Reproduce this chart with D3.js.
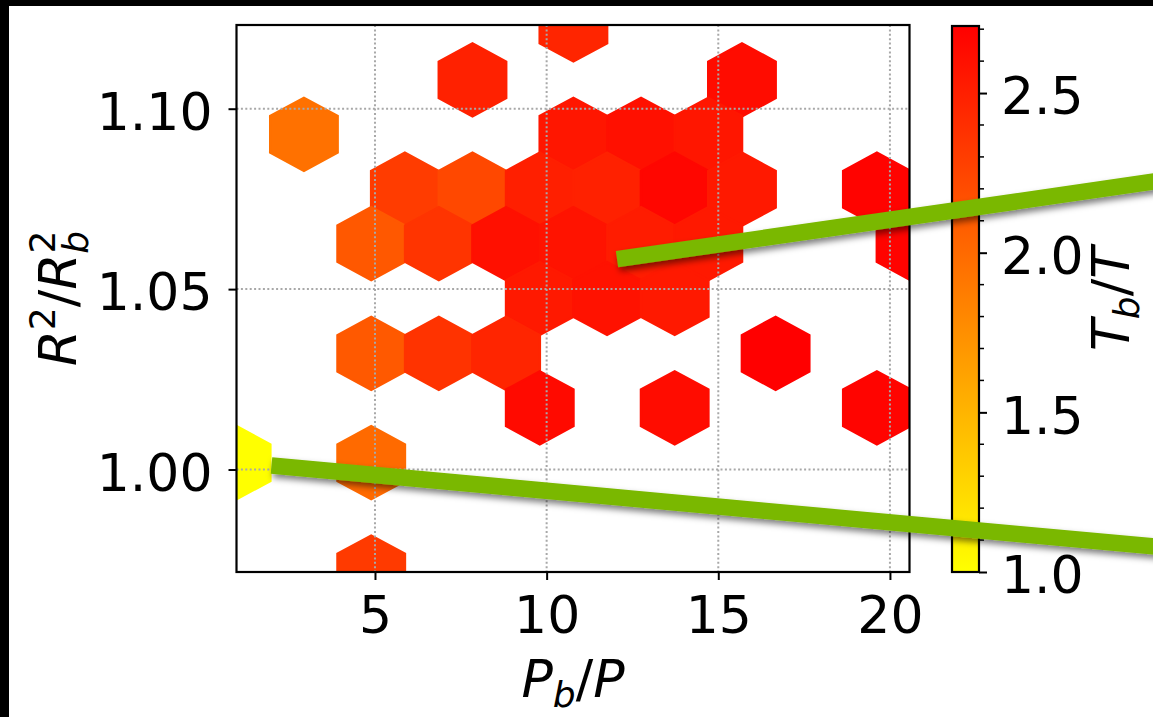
<html>
  <head>
    <script src="https://d3js.org/d3.v7.min.js"></script>
    <style>
      body { margin: 0; background: #fff; }
      text { font-family: "DejaVu Sans", sans-serif; fill: #000; }
    </style>
  </head>
  <body>
    <svg id="chart" width="1153" height="717"></svg>
    <script>
      // hexbin cells: centre (P_b/P, R^2/R_b^2) and colour value T_b/T
      var hexX = [10.78, 7.84, 15.69, 2.93, 10.78, 12.75, 14.71,
                  5.87, 7.84, 9.80, 11.76, 13.73, 15.69, 19.62,
                  4.89, 6.86, 8.82, 10.78, 12.75, 14.71, 20.60,
                  9.80, 11.76, 13.73,
                  4.89, 6.86, 8.82, 16.67,
                  9.80, 13.73, 19.62,
                  0.97, 4.89, 4.89];
      var hexY = [1.1232, 1.1080, 1.1080, 1.0929, 1.0929, 1.0929, 1.0929,
                  1.0777, 1.0777, 1.0777, 1.0777, 1.0777, 1.0777, 1.0777,
                  1.0626, 1.0626, 1.0626, 1.0626, 1.0626, 1.0626, 1.0626,
                  1.0474, 1.0474, 1.0474,
                  1.0322, 1.0322, 1.0322, 1.0322,
                  1.0171, 1.0171, 1.0171,
                  1.0019, 1.0019, 0.9716];
      var hexV = [2.46, 2.49, 2.63, 1.95, 2.56, 2.60, 2.56,
                  2.31, 2.23, 2.50, 2.49, 2.67, 2.54, 2.69,
                  2.12, 2.36, 2.60, 2.58, 2.52, 2.54, 2.69,
                  2.54, 2.59, 2.54,
                  2.11, 2.37, 2.46, 2.71,
                  2.64, 2.63, 2.68,
                  1.00, 2.00, 2.32];

      var xDomain = [0.966, 20.57];
      var yDomain = [0.9716, 1.1232];
      var cbDomain = [1.0, 2.71];
      var xTicks = [5, 10, 15, 20];
      var yTicks = [1.0, 1.05, 1.1];
      var cbTicks = [1.0, 1.5, 2.0, 2.5];
      var cbMinor = [1.1, 1.2, 1.3, 1.4, 1.6, 1.7, 1.8, 1.9, 2.1, 2.2, 2.3, 2.4, 2.6, 2.7];

      // hexagon size in data units (half width, full row step)
      var hexHalfW = 0.9817;
      var hexSy = 0.0303;

      // the two green annotation strokes, in data units
      var lineX1 = [12.05, 1.985];
      var lineY1 = [1.0583, 1.0011];
      var lineX2 = [27.9, 27.9];
      var lineY2 = [1.0801, 0.9785];

      var svg = d3.select("#chart");
      var pLeft = 236.5, pRight = 909.5, pTop = 25, pBottom = 572;
      var fs = 52;

      svg.append("rect").attr("width", 1153).attr("height", 717).attr("fill", "#fff");

      var x = d3.scaleLinear().domain(xDomain).range([pLeft, pRight]);
      var y = d3.scaleLinear().domain(yDomain).range([pBottom, pTop]);
      var color = d3.scaleLinear().domain(cbDomain).range(["#ffff00", "#ff0000"]);

      var defs = svg.append("defs");
      defs.append("clipPath").attr("id", "plotClip")
        .append("rect")
        .attr("x", pLeft).attr("y", pTop)
        .attr("width", pRight - pLeft).attr("height", pBottom - pTop);

      // hexagons
      var hexData = hexX.map(function (d, i) {
        return { x: d, y: hexY[i], v: hexV[i] };
      });
      function hexPath(d) {
        var pts = [
          [d.x + hexHalfW, d.y - hexSy / 6],
          [d.x + hexHalfW, d.y + hexSy / 6],
          [d.x, d.y + hexSy / 3],
          [d.x - hexHalfW, d.y + hexSy / 6],
          [d.x - hexHalfW, d.y - hexSy / 6],
          [d.x, d.y - hexSy / 3]
        ];
        return "M" + pts.map(function (p) {
          return x(p[0]) + "," + y(p[1]);
        }).join("L") + "Z";
      }
      svg.append("g")
        .attr("clip-path", "url(#plotClip)")
        .selectAll("path")
        .data(hexData)
        .enter()
        .append("path")
        .attr("d", hexPath)
        .attr("fill", function (d) { return color(d.v); })
        .attr("stroke", function (d) { return color(d.v); })
        .attr("stroke-width", 2.5)
        .attr("stroke-linejoin", "miter");

      // dotted grid on top of the cells
      var grid = svg.append("g")
        .attr("stroke", "#a8a8a8")
        .attr("stroke-width", 2)
        .attr("stroke-dasharray", "2,2.4");
      grid.selectAll(".gx").data(xTicks).enter().append("line")
        .attr("x1", function (d) { return x(d); })
        .attr("x2", function (d) { return x(d); })
        .attr("y1", pTop).attr("y2", pBottom);
      grid.selectAll(".gy").data(yTicks).enter().append("line")
        .attr("y1", function (d) { return y(d); })
        .attr("y2", function (d) { return y(d); })
        .attr("x1", pLeft).attr("x2", pRight);

      // axes
      var xAxis = svg.append("g")
        .attr("transform", "translate(0," + pBottom + ")")
        .call(d3.axisBottom(x).tickValues(xTicks).tickSize(8).tickPadding(16).tickFormat(d3.format("d")));
      var yAxis = svg.append("g")
        .attr("transform", "translate(" + pLeft + ",0)")
        .call(d3.axisLeft(y).tickValues(yTicks).tickSize(8).tickPadding(16).tickFormat(d3.format(".2f")));
      [xAxis, yAxis].forEach(function (a) {
        a.select(".domain").remove();
        a.selectAll(".tick line").attr("stroke", "#000").attr("stroke-width", 2);
        a.selectAll(".tick text")
          .style("font-size", fs + "px")
          .attr("font-family", "DejaVu Sans")
          .attr("fill", "#000");
      });
      xAxis.selectAll(".tick text").attr("dy", "0.72em");
      yAxis.selectAll(".tick text").attr("dy", "0.4em");

      svg.append("rect")
        .attr("x", pLeft).attr("y", pTop)
        .attr("width", pRight - pLeft).attr("height", pBottom - pTop)
        .attr("fill", "none").attr("stroke", "#000").attr("stroke-width", 2.2);

      // axis labels (mathtext-like)
      var xl = svg.append("text")
        .attr("x", (pLeft + pRight) / 2).attr("y", 697)
        .attr("text-anchor", "middle")
        .style("font-size", fs + "px");
      xl.append("tspan").style("font-style", "italic").text("P");
      xl.append("tspan").style("font-style", "italic").style("font-size", "36px").attr("dy", 10).text("b");
      xl.append("tspan").attr("dy", -10).text("/");
      xl.append("tspan").style("font-style", "italic").text("P");

      var yl = svg.append("text")
        .attr("transform", "translate(76," + (pTop + pBottom) / 2 + ") rotate(-90)")
        .attr("text-anchor", "middle")
        .style("font-size", fs + "px");
      yl.append("tspan").style("font-style", "italic").text("R");
      yl.append("tspan").style("font-size", "36px").attr("dy", -21).text("2");
      yl.append("tspan").attr("dy", 21).text("/");
      yl.append("tspan").style("font-style", "italic").text("R");
      yl.append("tspan").style("font-size", "36px").attr("dy", -21).text("2");
      yl.append("tspan").style("font-style", "italic").style("font-size", "36px")
        .attr("dx", -23).attr("dy", 33).text("b");

      // colorbar
      var cbLeft = 952, cbRight = 979, cbTop = 26, cbBottom = 572;
      var cy = d3.scaleLinear().domain(cbDomain).range([cbBottom, cbTop]);
      var grad = defs.append("linearGradient").attr("id", "cbGrad")
        .attr("x1", 0).attr("y1", 1).attr("x2", 0).attr("y2", 0);
      grad.append("stop").attr("offset", "0%").attr("stop-color", color(cbDomain[0]));
      grad.append("stop").attr("offset", "100%").attr("stop-color", color(cbDomain[1]));
      svg.append("rect")
        .attr("x", cbLeft).attr("y", cbTop)
        .attr("width", cbRight - cbLeft).attr("height", cbBottom - cbTop)
        .attr("fill", "url(#cbGrad)")
        .attr("stroke", "#000").attr("stroke-width", 2.2);

      var cbAxis = svg.append("g")
        .attr("transform", "translate(" + cbRight + ",0)")
        .call(d3.axisRight(cy).tickValues(cbTicks).tickSize(8).tickPadding(14).tickFormat(d3.format(".1f")));
      cbAxis.select(".domain").remove();
      cbAxis.selectAll(".tick line").attr("stroke", "#000").attr("stroke-width", 2);
      cbAxis.selectAll(".tick text")
        .style("font-size", fs + "px")
        .attr("font-family", "DejaVu Sans")
        .attr("fill", "#000")
        .attr("dy", "0.4em");
      svg.append("g").selectAll("line").data(cbMinor).enter().append("line")
        .attr("x1", cbRight).attr("x2", cbRight + 5)
        .attr("y1", function (d) { return cy(d); })
        .attr("y2", function (d) { return cy(d); })
        .attr("stroke", "#000").attr("stroke-width", 1.5);

      var cl = svg.append("text")
        .attr("transform", "translate(1129," + (cbTop + cbBottom) / 2 + ") rotate(-90)")
        .attr("text-anchor", "middle")
        .style("font-size", fs + "px");
      cl.append("tspan").style("font-style", "italic").text("T");
      cl.append("tspan").style("font-style", "italic").style("font-size", "36px").attr("dy", 10).text("b");
      cl.append("tspan").attr("dy", -10).text("/");
      cl.append("tspan").style("font-style", "italic").text("T");

      // green annotation strokes with a soft shadow
      var shadow = defs.append("filter").attr("id", "shadow")
        .attr("x", "-10%").attr("y", "-200%").attr("width", "120%").attr("height", "500%");
      shadow.append("feDropShadow")
        .attr("dx", 2).attr("dy", 4).attr("stdDeviation", 3)
        .attr("flood-color", "#000").attr("flood-opacity", 0.5);
      svg.append("g").attr("filter", "url(#shadow)")
        .selectAll("line")
        .data(lineX1)
        .enter()
        .append("line")
        .attr("x1", function (d) { return x(d); })
        .attr("y1", function (d, i) { return y(lineY1[i]); })
        .attr("x2", function (d, i) { return x(lineX2[i]); })
        .attr("y2", function (d, i) { return y(lineY2[i]); })
        .attr("stroke", "#7ab800")
        .attr("stroke-width", 16.5)
        .attr("stroke-linecap", "butt");

      // black frame remnants along top and left edges
      svg.append("rect").attr("x", 0).attr("y", 0).attr("width", 1153).attr("height", 6).attr("fill", "#000");
      svg.append("rect").attr("x", 0).attr("y", 0).attr("width", 9).attr("height", 717).attr("fill", "#000");
    </script>
  </body>
</html>
